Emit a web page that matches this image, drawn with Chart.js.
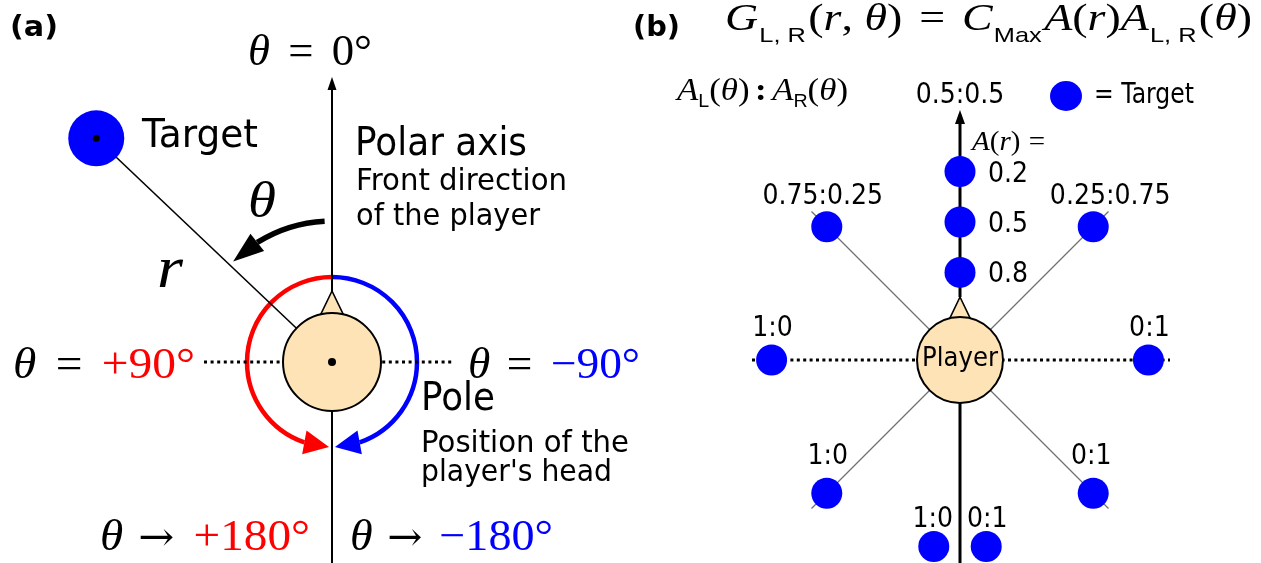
<!DOCTYPE html>
<html>
<head>
<meta charset="utf-8">
<title>Polar target model</title>
<script src="https://cdn.jsdelivr.net/npm/chart.js"></script>
<style>
  html, body { margin: 0; padding: 0; background: #fff; }
  #stage { position: relative; width: 1261px; height: 563px; overflow: hidden; background: #fff; }
  #stage canvas { position: absolute; top: 0; }
</style>
</head>
<body>
<div id="stage">
  <canvas id="panelA" width="660" height="563" style="left:0;width:660px;height:563px"></canvas>
  <canvas id="panelB" width="631" height="563" style="left:630px;width:631px;height:563px"></canvas>
</div>
<script>
// ---------------- data ----------------
// (a) example target: direction θ (deg, positive = player's left) and distance r (px)
const exampleTheta = [46.5];
const exampleR = [325];

// (b) targets: direction θ (deg) and distance attenuation A(r)
const targetTheta = [0, 0, 0, 45, -45, 90, -90, 135, -135, 172, -172];
const targetGain  = [0.8, 0.5, 0.2, 0.2, 0.2, 0.2, 0.2, 0.2, 0.2, 0.2, 0.2];

// (b) left/right balance A_L(θ):A_R(θ) for each direction
const balanceTheta  = [0, 45, -45, 90, -90, 135, -135, 172, -172];
const balanceLabels = ['0.5:0.5', '0.75:0.25', '0.25:0.75', '1:0', '0:1', '1:0', '0:1', '1:0', '0:1'];

// (b) guide rays drawn from the player
const rayTheta = [45, -45, 135, -135];

// ---------------- layout / style ----------------
const PEACH = '#fde3b6', BLUE = '#0000ff', RED = '#ff0000';
const SERIF = "'Liberation Serif', 'DejaVu Serif', serif";
const SANS = "'DejaVu Sans', 'Liberation Sans', sans-serif";
const ARIAL = "'Liberation Sans', 'DejaVu Sans', sans-serif";
const gainToDist = A => 222 - 168 * A;   // px from the player for a gain value
const RAY_LEN = 210;
const OX_B = 630;                         // left edge of panel (b)
// label anchor offsets (px) from the outer target in each direction: [dx, baseline dy]
const balanceOffset = [[0, -69], [-4, -23], [17, -23], [1, -24], [1, -24], [1, -29], [-2, -29], [-1, -20], [1, -20]];

function polar(thetaDeg, d) {
  const t = thetaDeg * Math.PI / 180;
  return { x: -d * Math.sin(t), y: d * Math.cos(t) };
}

// ---------------- drawing helpers ----------------
function fit(ctx, text, x, base, width, font, color = '#000', align = 'left') {
  ctx.save();
  ctx.font = font;
  const nat = ctx.measureText(text).width;
  const s = width ? width / nat : 0.9;
  const w = nat * s;
  const left = align === 'center' ? x - w / 2 : x;
  ctx.translate(left, base);
  ctx.scale(s, 1);
  ctx.fillStyle = color;
  ctx.textAlign = 'left';
  ctx.textBaseline = 'alphabetic';
  ctx.fillText(text, 0, 0);
  ctx.restore();
}

// a run of differently styled pieces, stretched to a given width
function runs(ctx, list, x, base, width) {
  ctx.save();
  let total = 0;
  for (const r of list) { ctx.font = r.f; total += (r.g || 0) + ctx.measureText(r.t).width; }
  const s = width ? width / total : 1;
  ctx.translate(x, base);
  ctx.scale(s, 1);
  ctx.textAlign = 'left';
  ctx.textBaseline = 'alphabetic';
  let cx = 0;
  for (const r of list) {
    cx += r.g || 0;
    ctx.font = r.f;
    ctx.fillStyle = r.c || '#000';
    ctx.fillText(r.t, cx, r.dy || 0);
    cx += ctx.measureText(r.t).width;
  }
  ctx.restore();
}
const it  = (t, size, o = {}) => Object.assign({ t, f: `italic ${size}px ${SERIF}` }, o);
const up  = (t, size, o = {}) => Object.assign({ t, f: `${size}px ${SERIF}` }, o);
const arr = (size, o = {}) => Object.assign({ t: '→', f: `${size}px 'DejaVu Serif', serif` }, o);
const sub = (t, size, dy, o = {}) => Object.assign({ t, f: `${size}px ${ARIAL}`, dy }, o);

function arrowHead(ctx, tip, base, halfW, color) {
  const dx = tip.x - base.x, dy = tip.y - base.y, L = Math.hypot(dx, dy);
  const nx = -dy / L, ny = dx / L;
  ctx.save();
  ctx.fillStyle = color;
  ctx.beginPath();
  ctx.moveTo(tip.x, tip.y);
  ctx.lineTo(base.x + nx * halfW, base.y + ny * halfW);
  ctx.lineTo(base.x - nx * halfW, base.y - ny * halfW);
  ctx.closePath();
  ctx.fill();
  ctx.restore();
}

// circular arc around the pole from θ0 to θ1, ending in an arrowhead at θtip
function ringArrow(ctx, cx, cy, R, th0, th1, thTip, color, lw, halfW) {
  const ang = th => -Math.PI / 2 - th * Math.PI / 180;
  const pt = th => ({ x: cx + R * Math.cos(ang(th)), y: cy + R * Math.sin(ang(th)) });
  ctx.save();
  ctx.strokeStyle = color;
  ctx.lineWidth = lw;
  ctx.beginPath();
  ctx.arc(cx, cy, R, ang(th0), ang(th1), th1 > th0);
  ctx.stroke();
  ctx.restore();
  arrowHead(ctx, pt(thTip), pt(th1), halfW, color);
}

function nose(ctx, cx, cy, tip, base, half) {
  ctx.save();
  ctx.fillStyle = PEACH;
  ctx.strokeStyle = '#000';
  ctx.lineWidth = 1.6;
  ctx.lineJoin = 'miter';
  ctx.beginPath();
  ctx.moveTo(cx, cy - tip);
  ctx.lineTo(cx + half, cy - base);
  ctx.lineTo(cx - half, cy - base);
  ctx.closePath();
  ctx.fill();
  ctx.stroke();
  ctx.restore();
}

function dot(ctx, x, y, r) {
  ctx.save();
  ctx.fillStyle = '#000';
  ctx.beginPath();
  ctx.arc(x, y, r, 0, Math.PI * 2);
  ctx.fill();
  ctx.restore();
}

const lineDs = (data, o = {}) => Object.assign({
  data, showLine: true, pointRadius: 0, pointHoverRadius: 0, borderColor: '#000',
  borderWidth: 2, borderCapStyle: 'butt', fill: false, tension: 0, clip: false
}, o);
const pointDs = (data, r, bg, o = {}) => Object.assign({
  data, showLine: false, pointRadius: r, pointHoverRadius: r,
  pointBackgroundColor: bg, backgroundColor: bg, pointBorderWidth: 0, borderWidth: 0, clip: false
}, o);

function baseOptions(cx, cy, w, h) {
  return {
    responsive: false, animation: false, events: [],
    layout: { padding: 0, autoPadding: false },
    plugins: { legend: { display: false }, tooltip: { enabled: false }, title: { display: false } },
    scales: {
      x: { type: 'linear', display: false, min: -cx, max: w - cx },
      y: { type: 'linear', display: false, min: cy - h, max: cy }
    }
  };
}

// ---------------- panel (a): polar coordinate definition ----------------
const exampleTarget = exampleTheta.map((t, i) => polar(t, exampleR[i]));

const panelAPlugin = {
  id: 'panelADecor',
  beforeDatasetsDraw(chart) {
    const ctx = chart.ctx, X = v => chart.scales.x.getPixelForValue(v), Y = v => chart.scales.y.getPixelForValue(v);
    const cx = X(0), cy = Y(0), u = X(1) - X(0);
    ringArrow(ctx, cx, cy, 85 * u, 0, 161, 178, RED, 4.5, 12);
    ringArrow(ctx, cx, cy, 85 * u, 0, -161, -178, BLUE, 4.5, 12);
    ringArrow(ctx, cx, cy, 141 * u, 3, 32, 44.5, '#000', 5.5, 11);
    nose(ctx, cx, cy, 71 * u, 44 * u, 13 * u);
  },
  afterDatasetsDraw(chart) {
    const ctx = chart.ctx, X = v => chart.scales.x.getPixelForValue(v), Y = v => chart.scales.y.getPixelForValue(v);
    arrowHead(ctx, { x: X(0), y: Y(285) }, { x: X(0), y: Y(272) }, 4.5, '#000');
    dot(ctx, X(0), Y(0), 4);
    exampleTarget.forEach(p => dot(ctx, X(p.x), Y(p.y), 3.5));

    fit(ctx, '(a)', 10, 36, 48, `bold 29px ${SANS}`);
    const M = 44;
    runs(ctx, [it('θ', M), up('=', M, { g: 18 }), up('0°', M, { g: 18 })], 248, 65, 124);
    runs(ctx, [it('θ', M), up('=', M, { g: 18 }), up('+90°', M, { g: 18, c: RED })], 13, 378, 182);
    runs(ctx, [it('θ', M), up('=', M, { g: 16 }), up('−90°', M, { g: 18, c: BLUE })], 468, 378, 172);
    runs(ctx, [it('θ', M), arr(40, { g: 14 }), up('+180°', M, { g: 18, c: RED })], 100, 550, 210);
    runs(ctx, [it('θ', M), arr(40, { g: 14 }), up('−180°', M, { g: 16, c: BLUE })], 350, 550, 203);
    runs(ctx, [it('θ', 50)], 248, 217, 28);
    runs(ctx, [it('r', 60)], 157, 287, 26);

    fit(ctx, 'Target', 142, 147, 116, `39px ${SANS}`);
    fit(ctx, 'Polar axis', 355, 155, 172, `39px ${SANS}`);
    fit(ctx, 'Front direction', 356, 190, 211, `30px ${SANS}`);
    fit(ctx, 'of the player', 356, 225, 184, `30px ${SANS}`);
    fit(ctx, 'Pole', 421, 410, 74, `39px ${SANS}`);
    fit(ctx, 'Position of the', 421, 452, 208, `30px ${SANS}`);
    fit(ctx, "player's head", 421, 481, 191, `30px ${SANS}`);
  }
};

new Chart(document.getElementById('panelA'), {
  type: 'scatter',
  data: {
    datasets: [
      pointDs([{ x: 0, y: 0 }], 49, PEACH, { pointBorderColor: '#000', pointBorderWidth: 2 }),
      pointDs(exampleTarget, 28, BLUE),
      lineDs([exampleTarget[0], { x: 0, y: 0 }], { borderWidth: 1.6 }),
      lineDs([{ x: 0, y: 71 }, { x: 0, y: 273 }], { borderWidth: 2 }),
      lineDs([{ x: 0, y: 0 }, { x: 0, y: -201 }], { borderWidth: 2 }),
      lineDs([{ x: -128, y: 0 }, { x: 121, y: 0 }], { borderWidth: 3, borderDash: [3, 3.6] })
    ]
  },
  options: baseOptions(332, 362, 660, 563),
  plugins: [panelAPlugin]
});

// ---------------- panel (b): gain model ----------------
const targets = targetTheta.map((t, i) => polar(t, gainToDist(targetGain[i])));
const rays = rayTheta.map(t => lineDs([{ x: 0, y: 0 }, polar(t, RAY_LEN)], { borderWidth: 1.2, borderColor: '#707070' }));

const panelBPlugin = {
  id: 'panelBDecor',
  beforeDatasetsDraw(chart) {
    const ctx = chart.ctx, X = v => chart.scales.x.getPixelForValue(v), Y = v => chart.scales.y.getPixelForValue(v);
    const u = X(1) - X(0);
    nose(ctx, X(0), Y(0), 63 * u, 40 * u, 11 * u);
  },
  afterDatasetsDraw(chart) {
    const ctx = chart.ctx, X = v => chart.scales.x.getPixelForValue(v), Y = v => chart.scales.y.getPixelForValue(v);
    arrowHead(ctx, { x: X(0), y: Y(250) }, { x: X(0), y: Y(236) }, 5, '#000');

    // A(r) values beside the targets on the polar axis
    targetTheta.forEach((t, i) => {
      if (t !== 0) return;
      const p = targets[i];
      fit(ctx, targetGain[i].toFixed(1), X(p.x) + 28, Y(p.y) + 10, null, `28px ${SANS}`);
    });
    // A_L:A_R balance for each direction
    balanceTheta.forEach((t, i) => {
      const p = polar(t, gainToDist(0.2));
      const [dx, dy] = balanceOffset[i];
      fit(ctx, balanceLabels[i], X(p.x) + dx, Y(p.y) + dy, null, `28px ${SANS}`, '#000', 'center');
    });
    fit(ctx, 'Player', X(0), Y(0) + 6, 76, `27px ${SANS}`, '#000', 'center');

    ctx.save();
    ctx.translate(-OX_B, 0);
    fit(ctx, '(b)', 633, 36, 47, `bold 29px ${SANS}`);
    const F = 38, S = 21, D = 12;
    runs(ctx, [
      it('G', F), sub('L, R', S, D, { g: 1 }), up('(', F, { g: 2 }), it('r', F), up(', ', F), it('θ', F), up(')', F),
      up('=', F, { g: 14 }), it('C', F, { g: 14 }), sub('Max', S, D, { g: 1 }),
      it('A', F, { g: 2 }), up('(', F), it('r', F), up(')', F),
      it('A', F), sub('L, R', S, D, { g: 1 }), up('(', F, { g: 2 }), it('θ', F), up(')', F)
    ], 725, 30, 527);
    const Q = 32;
    runs(ctx, [
      it('A', Q), sub('L', 18, 7), up('(', Q), it('θ', Q), up(')', Q),
      { t: ':', f: `bold ${Q}px ${SERIF}`, g: 5 },
      it('A', Q, { g: 5 }), sub('R', 18, 7), up('(', Q), it('θ', Q), up(')', Q)
    ], 677, 100, 171);
    runs(ctx, [it('A', 28), up('(', 28), it('r', 28), up(')', 28), up('=', 28, { g: 8 })], 972, 150, 73);

    ctx.fillStyle = BLUE;
    ctx.beginPath();
    ctx.ellipse(1066, 96, 16, 15, 0, 0, Math.PI * 2);
    ctx.fill();
    fit(ctx, '= Target', 1094, 103, 100, `29px ${SANS}`);
    ctx.restore();
  }
};

new Chart(document.getElementById('panelB'), {
  type: 'scatter',
  data: {
    datasets: [
      pointDs([{ x: 0, y: 0 }], 43, PEACH, { pointBorderColor: '#000', pointBorderWidth: 2 }),
      pointDs(targets, 15.5, BLUE),
      lineDs([{ x: 0, y: 63 }, { x: 0, y: 237 }], { borderWidth: 3 }),
      lineDs([{ x: 0, y: 0 }, { x: 0, y: -203 }], { borderWidth: 3 }),
      lineDs([{ x: -208, y: 0 }, { x: 210, y: 0 }], { borderWidth: 3, borderDash: [3, 3.4] }),
      ...rays
    ]
  },
  options: baseOptions(330, 360, 631, 563),
  plugins: [panelBPlugin]
});
</script>
</body>
</html>
